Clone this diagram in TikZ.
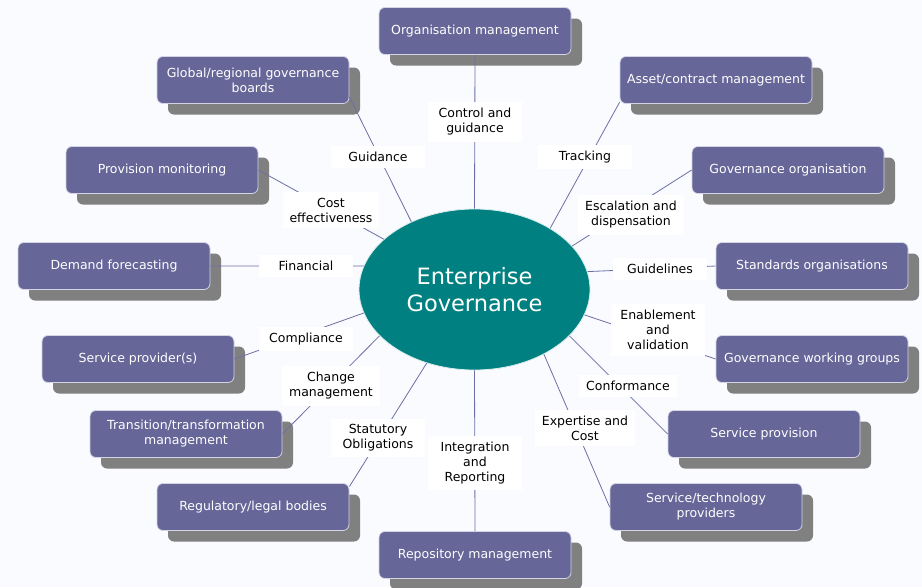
\documentclass[tikz,border=0pt]{standalone}
\usepackage{fontspec}
\setmainfont{DejaVu Sans}
\usetikzlibrary{shadows,shapes.geometric}
\definecolor{bgc}{HTML}{FAFBFE}
\definecolor{boxc}{HTML}{666699}
\definecolor{boxborder}{HTML}{D4D4E4}
\definecolor{shadowc}{HTML}{808080}
\definecolor{coreteal}{HTML}{008080}
\definecolor{linec}{HTML}{6E6EA6}
\tikzset{
  box/.style={rectangle, rounded corners=6pt, fill=boxc, draw=boxborder, line width=0.8pt,
    minimum width=192pt, minimum height=47pt, inner sep=2pt, text=white, align=center,
    font=\fontsize{12.5}{15}\selectfont,
    drop shadow={shadow xshift=11pt, shadow yshift=-11pt, fill=shadowc, opacity=1}},
  lbl/.style={fill=white, inner xsep=7pt, inner ysep=6pt, minimum width=94pt, align=center,
    text=black, font=\fontsize{12.5}{15}\selectfont},
  conn/.style={draw=linec, line width=0.8pt},
  core/.style={ellipse, fill=coreteal, draw=white!85!coreteal, line width=0.8pt, minimum width=231pt,
    minimum height=161pt, inner sep=0pt, text=white, align=center, font=\fontsize{22.5}{27}\selectfont}
}
\begin{document}
\begin{tikzpicture}[x=1pt,y=-1pt]
\fill[bgc] (0,0) rectangle (922,587);
\useasboundingbox (0,0) rectangle (922,587);
% core
\node[core] (E) at (474.5,289.5) {Enterprise\\Governance};
% boxes
\node[box] (org) at (475,31) {Organisation management};
\node[box] (glob) at (253,80) {Global/regional governance\\boards};
\node[box] (asset) at (716,80) {Asset/contract management};
\node[box] (prov) at (162,170) {Provision monitoring};
\node[box] (gorg) at (788,170) {Governance organisation};
\node[box] (dem) at (114,266) {Demand forecasting};
\node[box] (std) at (812,266) {Standards organisations};
\node[box] (sp) at (138,359) {Service provider(s)};
\node[box] (gwg) at (812,359) {Governance working groups};
\node[box] (trans) at (186,434) {Transition/transformation\\management};
\node[box] (sprov) at (764,434) {Service provision};
\node[box] (reg) at (253,507) {Regulatory/legal bodies};
\node[box] (stp) at (706,507) {Service/technology\\providers};
\node[box] (rep) at (475,555) {Repository management};
% connectors
\draw[conn] (org.south) -- (E.90);
\draw[conn] (glob.-10) -- (E.133.7);
\draw[conn] (asset.193) -- (E.39.2);
\draw[conn] (prov.east) -- (E.151.6);
\draw[conn] (gorg.west) -- (E.24);
\draw[conn] (dem.east) -- (E.168.5);
\draw[conn] (std.west) -- (E.9.6);
\draw[conn] (sp.east) -- (E.192.6);
\draw[conn] (gwg.west) -- (E.347.5);
\draw[conn] (trans.east) -- (E.206.7);
\draw[conn] (sprov.west) -- (E.334);
\draw[conn] (reg.12) -- (E.237.3);
\draw[conn] (stp.west) -- (E.317.2);
\draw[conn] (rep.north) -- (E.270);
% labels
\node[lbl] (l1) at (475,122) {Control and\\guidance};
\node[lbl] (l2) at (378,157) {Guidance};
\node[lbl] (l3) at (585,157) {Tracking};
\node[lbl] (l4) at (331,210) {Cost\\effectiveness};
\node[lbl] (l5) at (631,215) {Escalation and\\dispensation};
\node[lbl] (l6) at (306,266) {Financial};
\node[lbl] (l7) at (660,269) {Guidelines};
\node[lbl] (l8) at (306,339) {Compliance};
\node[lbl] (l9) at (658,330) {Enablement\\and\\validation};
\node[lbl] (l10) at (331,386) {Change\\management};
\node[lbl] (l11) at (628,386) {Conformance};
\node[lbl] (l12) at (378,438) {Statutory\\Obligations};
\node[lbl] (l13) at (475,463) {Integration\\and\\Reporting};
\node[lbl] (l14) at (585,428) {Expertise and\\Cost};
\end{tikzpicture}
\end{document}
